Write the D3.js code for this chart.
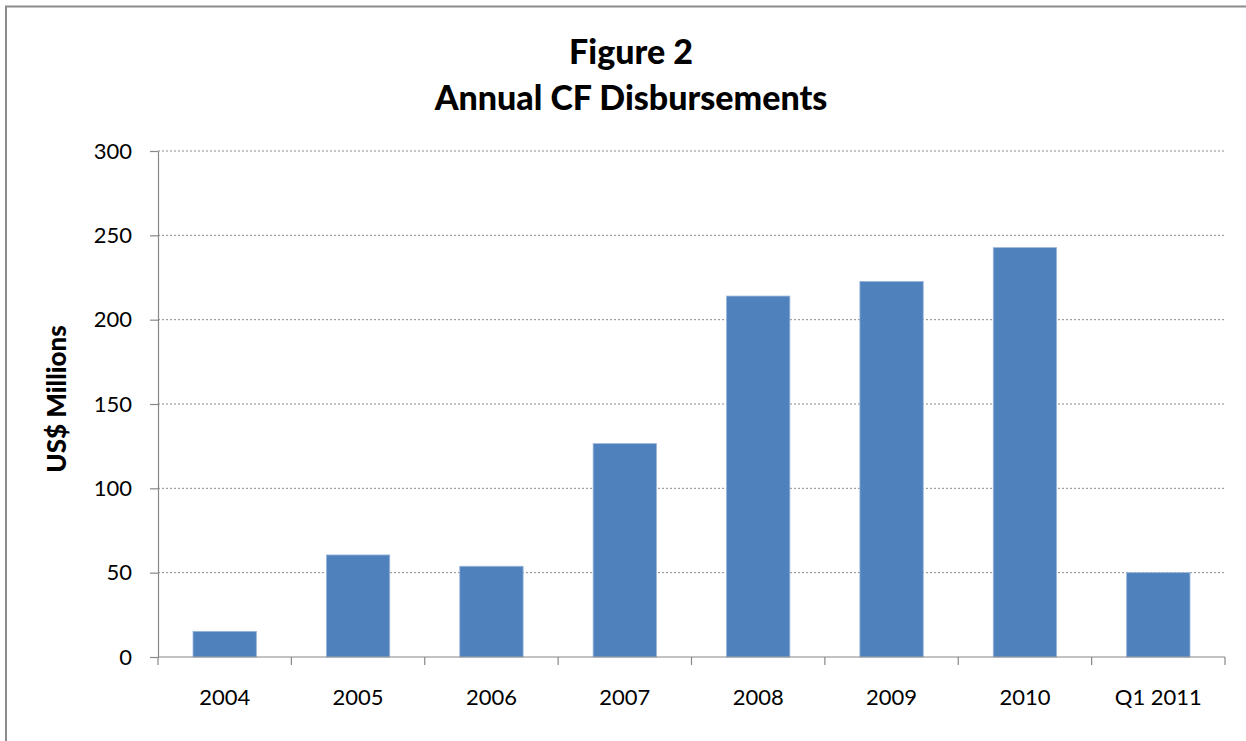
<!DOCTYPE html>
<html><head><meta charset="utf-8">
<script src="https://cdn.jsdelivr.net/npm/d3@7"></script>
<style>body{margin:0;background:#fff}svg{display:block}</style>
</head><body><svg id="c" width="1246" height="741"></svg>
<script>
const categories = ["2004","2005","2006","2007","2008","2009","2010","Q1 2011"];
const values = [15.2, 60.5, 53.8, 126.5, 214, 222.7, 242.7, 50.0];
const yTicks = [0, 50, 100, 150, 200, 250, 300];
const titleLines = ["Figure 2", "Annual CF Disbursements"];
const yLabel = "US$ Millions";

const FONT = "Lato, 'Open Sans', sans-serif";
const svg = d3.select("#c");
const m = {l:158, r:1225, t:151, b:657};

// frame
svg.append("rect").attr("x",6).attr("y",6.5).attr("width",1400).attr("height",900)
  .attr("fill","none").attr("stroke","#8c8c8c").attr("stroke-width",2);

const x = d3.scaleBand().domain(categories).range([m.l, m.r]).paddingInner(0.525).paddingOuter(0.2625);
const y = d3.scaleLinear().domain([0, 300]).range([m.b, m.t]);

// gridlines
svg.append("g").selectAll("line").data(yTicks.filter(d=>d>0)).join("line")
  .attr("x1", m.l).attr("x2", m.r).attr("y1", d=>y(d)).attr("y2", d=>y(d))
  .attr("stroke","#8a8a8a").attr("stroke-width",1).attr("stroke-dasharray","2,2");

// bars
svg.append("g").selectAll("rect").data(values).join("rect")
  .attr("x",(d,i)=>x(categories[i])).attr("width",x.bandwidth())
  .attr("y",d=>y(d)).attr("height",d=>y(0)-y(d))
  .attr("fill","#4F81BD").attr("stroke","#9bb6da").attr("stroke-width",0.8);

// y axis
const ya = svg.append("g").attr("transform",`translate(${m.l},0)`)
  .call(d3.axisLeft(y).tickValues(yTicks).tickSize(8).tickPadding(18).tickSizeOuter(0));
ya.select(".domain").attr("stroke","#888").attr("stroke-width",1.2);
ya.selectAll(".tick line").attr("stroke","#888").attr("stroke-width",1.2);
ya.selectAll("text").attr("font-family",FONT).attr("font-size",22).attr("fill","#000");

// x axis
const xa = svg.append("g").attr("transform",`translate(0,${m.b})`)
  .call(d3.axisBottom(x).tickSize(0).tickPadding(32));
xa.select(".domain").attr("stroke","#888").attr("stroke-width",1.2).attr("d",`M${m.l},0H${m.r}`);
xa.selectAll("text").attr("font-family",FONT).attr("font-size",22).attr("fill","#000");
const bounds = d3.range(categories.length+1).map(i=>m.l + i*(m.r-m.l)/categories.length);
svg.append("g").selectAll("line").data(bounds).join("line")
  .attr("x1",d=>d).attr("x2",d=>d).attr("y1",m.b).attr("y2",m.b+8)
  .attr("stroke","#888").attr("stroke-width",1.2);

// title
svg.append("g").selectAll("text").data(titleLines).join("text")
  .attr("x",631).attr("y",(d,i)=>64+i*46).attr("text-anchor","middle")
  .attr("font-family",FONT).attr("font-weight","900").attr("font-size",34).attr("fill","#000")
  .text(d=>d);

// y label
svg.append("text").attr("transform",`translate(66,399) rotate(-90)`)
  .attr("text-anchor","middle").attr("font-family",FONT).attr("font-weight","900")
  .attr("font-size",26).attr("fill","#000").text(yLabel);
</script></body></html>
